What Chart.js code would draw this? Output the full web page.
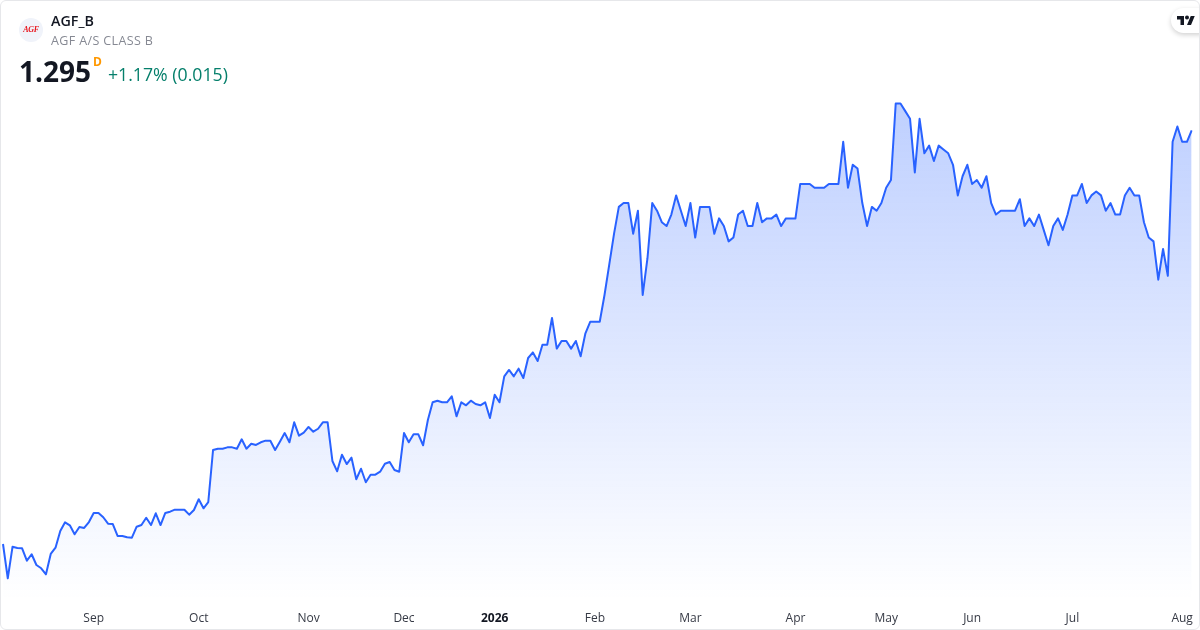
<!DOCTYPE html>
<html>
<head>
<meta charset="utf-8">
<script src="https://cdn.jsdelivr.net/npm/chart.js@4/dist/chart.umd.min.js"></script>
<style>
  html, body { margin: 0; padding: 0; background: #fff; }
  body { width: 1200px; height: 630px; position: relative; overflow: hidden; font-family: "Open Sans", sans-serif; }
  #myChart { position: absolute; left: 0; top: 0; }
  .frame { position: absolute; left: 0; top: 0; width: 1198px; height: 628px; border: 1px solid #e6e7ea; border-radius: 6px; pointer-events: none; }
  .txt { position: absolute; white-space: nowrap; line-height: 1; }
  #badge { position: absolute; left: 19px; top: 18px; width: 24px; height: 24px; border-radius: 50%; background: #f0f3fa; }
  #badgeText { position: absolute; left: 0; top: 7px; width: 24px; text-align: center; font: italic 700 8px/10px "Liberation Serif", serif; color: #e8141c; letter-spacing: -0.3px; }
  #pill { position: absolute; left: 1171px; top: 8px; width: 40px; height: 25px; border-radius: 13px; background: #fff; box-shadow: 0 2px 5px rgba(0,0,0,.18); }
  #tvlogo { position: absolute; left: 1177px; top: 14px; }
</style>
</head>
<body>
<canvas id="myChart" width="1200" height="630"></canvas>
<div id="pill"></div>
<svg id="tvlogo" width="18" height="14" viewBox="0 0 36 28"><path fill="#131722" d="M14 22H7V11H0V4h14v18zM28 22h-8l7.5-18h8L28 22z"/><circle fill="#131722" cx="20" cy="7" r="4"/></svg>
<div id="badge"><div id="badgeText">AGF</div></div>
<div class="txt" style="left:51px;top:14px;font-size:14.3px;font-weight:600;color:#131722">AGF_B</div>
<div class="txt" style="left:51px;top:35px;font-size:12.5px;color:#868993;letter-spacing:0.37px">AGF A/S CLASS B</div>
<div class="txt" style="left:19px;top:57px;font-size:28px;font-weight:700;color:#131722">1.295</div>
<div class="txt" style="left:93px;top:56px;font-size:12px;font-weight:700;color:#ff9800">D</div>
<div class="txt" style="left:108px;top:66px;font-size:17.7px;color:#057f6b">+1.17% (0.015)</div>
<div class="frame"></div>
<script>
const closeValues = [
  0.7549, 0.7101, 0.7514, 0.7497, 0.7493, 0.7331, 0.7415, 0.7275, 0.7232, 0.7153,
  0.7419, 0.7501, 0.7719, 0.7832, 0.7793, 0.7676, 0.7771, 0.7758, 0.7836, 0.7954,
  0.7954, 0.7898, 0.7814, 0.7810, 0.7654, 0.7654, 0.7637, 0.7631, 0.7775, 0.7797,
  0.7892, 0.7797, 0.7950, 0.7797, 0.7954, 0.7971, 0.7997, 0.7997, 0.7997, 0.7932,
  0.7993, 0.8133, 0.8015, 0.8097, 0.8776, 0.8793, 0.8793, 0.8811, 0.8811, 0.8793,
  0.8916, 0.8793, 0.8858, 0.8842, 0.8877, 0.8898, 0.8898, 0.8776, 0.8885, 0.8998,
  0.8877, 0.9138, 0.8963,
  0.9002, 0.9077, 0.9015, 0.9054, 0.9138, 0.9138, 0.8633, 0.8498, 0.8715, 0.8593,
  0.8676, 0.8394, 0.8532, 0.8355, 0.8454, 0.8454, 0.8493, 0.8597, 0.8620, 0.8515,
  0.8493, 0.8998, 0.8877, 0.8981, 0.8981, 0.8838, 0.9168, 0.9399, 0.9420, 0.9399,
  0.9399, 0.9477, 0.9216, 0.9399, 0.9360, 0.9420, 0.9377, 0.9360, 0.9399, 0.9194,
  0.9498, 0.9399, 0.9738, 0.9821, 0.9738, 0.9838, 0.9716, 0.9977, 1.005, 0.9938,
  1.015, 1.015, 1.05, 1.01, 1.02, 1.02, 1.01, 1.02, 1.0, 1.03,
  1.045, 1.045, 1.045,
  1.08, 1.12, 1.16, 1.195, 1.2, 1.2, 1.16, 1.19, 1.08, 1.128,
  1.2, 1.19, 1.175, 1.17, 1.185, 1.21, 1.19, 1.17, 1.2, 1.155,
  1.195, 1.195, 1.195, 1.16, 1.18, 1.17, 1.15, 1.155, 1.185, 1.19,
  1.17, 1.17, 1.2, 1.175, 1.18, 1.18, 1.185, 1.17, 1.18, 1.18,
  1.18, 1.225, 1.225, 1.225, 1.22, 1.22, 1.22, 1.225, 1.225, 1.225,
  1.28, 1.22, 1.25, 1.245, 1.2, 1.17, 1.195, 1.19, 1.2, 1.22,
  1.23, 1.33, 1.33, 1.32, 1.31, 1.24, 1.31, 1.265, 1.275, 1.255,
  1.275, 1.27, 1.265, 1.25, 1.21, 1.235, 1.25, 1.225, 1.23, 1.22,
  1.235, 1.2, 1.185, 1.19, 1.19, 1.19, 1.19, 1.205, 1.17, 1.18,
  1.17, 1.185, 1.165, 1.145, 1.17, 1.18, 1.165, 1.185, 1.21, 1.21,
  1.225, 1.2, 1.21, 1.215, 1.21, 1.19, 1.2, 1.185, 1.185, 1.21,
  1.22, 1.21, 1.21, 1.175, 1.155, 1.15, 1.1, 1.14, 1.105, 1.28,
  1.3, 1.28, 1.28, 1.295
]
const categories = closeValues.map((v, i) => i)
const tickIndexes = [19, 41, 64, 84, 103, 124, 144, 166, 185, 203, 224, 247]
const tickLabels = ["Sep", "Oct", "Nov", "Dec", "2026", "Feb", "Mar", "Apr", "May", "Jun", "Jul", "Aug"]

function areaGradient(context) {
  const chart = context.chart
  if (!chart.chartArea) return "rgba(41,98,255,0.15)"
  const top = chart.scales.y.getPixelForValue(Math.max(...closeValues))
  const gradient = chart.ctx.createLinearGradient(0, top, 0, chart.chartArea.bottom)
  gradient.addColorStop(0, "rgba(41,98,255,0.3)")
  gradient.addColorStop(1, "rgba(41,98,255,0)")
  return gradient
}

const ctx = document.getElementById("myChart")
new Chart(ctx, {
  type: "line",
  data: {
    labels: categories,
    datasets: [{
      label: "AGF_B",
      data: closeValues,
      borderColor: "#2962ff",
      borderWidth: 2,
      borderJoinStyle: "round",
      backgroundColor: areaGradient,
      fill: "start",
      pointRadius: 0,
      tension: 0
    }]
  },
  options: {
    responsive: false,
    animation: false,
    layout: { padding: { left: 3, right: 8.3, top: 0, bottom: 0 } },
    plugins: { legend: { display: false }, tooltip: { enabled: false } },
    scales: {
      y: { display: false, min: 0.6818, max: 1.4651 },
      x: {
        grid: { display: false },
        border: { display: false },
        afterBuildTicks: (scale) => { scale.ticks = tickIndexes.map((i) => ({ value: i })) },
        afterFit: (scale) => { scale.height = 30; scale.paddingLeft = 0; scale.paddingRight = 0 },
        ticks: {
          autoSkip: false,
          maxRotation: 0,
          padding: 3,
          color: (c) => c.tick && c.tick.value === 103 ? "#131722" : "#363a45",
          font: (c) => ({
            family: "'Open Sans', sans-serif",
            size: 12,
            weight: c.tick && c.tick.value === 103 ? "700" : "400"
          }),
          callback: (value) => tickLabels[tickIndexes.indexOf(value)]
        }
      }
    }
  }
})
</script>
</body>
</html>
